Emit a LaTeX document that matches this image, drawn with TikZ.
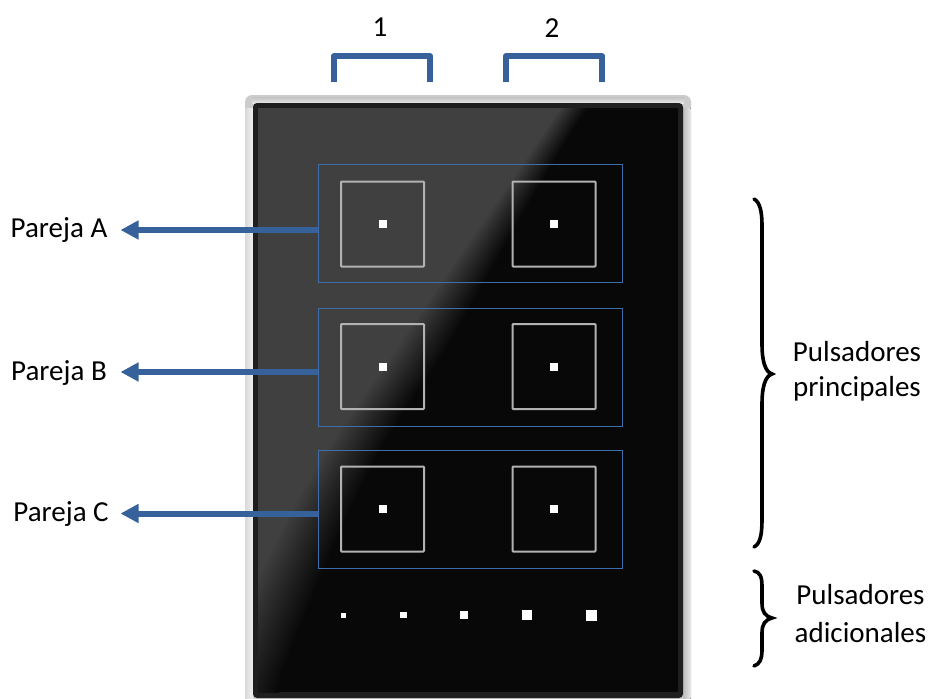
\documentclass[tikz,border=0pt]{standalone}
\usepackage{fontspec}
\setmainfont{Carlito}
\usetikzlibrary{arrows.meta}
\definecolor{blueline}{HTML}{36619A}
\definecolor{bluethin}{HTML}{3E6DAA}
\definecolor{glass}{HTML}{404040}
\definecolor{deep}{HTML}{080808}
\tikzset{
  lbl/.style={font=\fontsize{29}{35}\selectfont,text=black,inner sep=0pt,align=center},
  pairbox/.style={draw=bluethin,line width=1.2pt,minimum width=304pt,minimum height=118pt,inner sep=0pt},
  keybox/.style={draw=white!70!black,line width=2pt,minimum width=83pt,minimum height=85pt,inner sep=0pt,rounded corners=0.8pt},
  led/.style={fill=white,inner sep=0pt,minimum size=#1},
  conn/.style={draw=blueline,line width=6pt},
  colbr/.style={draw=blueline,line width=6pt,line join=round},
  pointer/.style={conn,-{Triangle[length=18pt,width=18pt]}},
  brace/.style={draw=black,line width=3.6pt,line cap=round,line join=miter}
}
\begin{document}
\begin{tikzpicture}[x=1pt,y=-1pt]
\useasboundingbox (0,0) rectangle (930,699);
\fill[white] (0,0) rectangle (930,699);
% bezel
\fill[rounded corners=7pt,fill=white!80!black] (245,95) rectangle (691,720);
\fill[left color=white!86!black,right color=white!94!black] (245.5,108) rectangle (253,720);
\fill[left color=white!74!black,right color=white!90!black] (683,108) rectangle (690.5,720);
\fill[top color=white!76!black,bottom color=white!90!black] (252,97) rectangle (684,103);
\fill[rounded corners=4pt,fill=black!88] (253,103) rectangle (683,698);
% glass with gloss
\begin{scope}
\clip (258,108) rectangle (678,692);
\fill[deep] (258,108) rectangle (678,692);
\foreach \i in {0,1,...,24}{
  \pgfmathsetmacro{\mixv}{100*\i/24}
  \pgfmathsetmacro{\offa}{14-1.17*\i}
  \pgfmathsetmacro{\offb}{30-2.17*\i}
  \pgfmathsetmacro{\offc}{34-2.83*\i}
  \fill[glass!\mixv!deep] (240,100) -- ({580+\offa},100)
     .. controls ({510+\offa},205) and ({450+\offb},300) .. ({400+\offb},377)
     .. controls ({340+\offb},455) and ({295+\offc},560) .. ({250+\offc},675)
     -- ({240+\offc},710) -- (240,710) -- cycle;
}
\end{scope}
% pair boxes
\node[pairbox] (pa) at (470.5,223.2) {};
\node[pairbox] (pb) at (470.5,367.3) {};
\node[pairbox] (pc) at (470.5,509.5) {};
% keys
\foreach \n/\y in {a/224,b/366.5,c/509}{
  \node[keybox] (k1\n) at (382.5,\y) {};
  \node[keybox] (k2\n) at (554,\y) {};
  \node[led=8pt] (l1\n) at (382.5,\y) {};
  \node[led=8pt] (l2\n) at (554,\y) {};
}
% additional LEDs
\node[led=5pt] (s1) at (343.3,615) {};
\node[led=6.5pt] (s2) at (403.3,615) {};
\node[led=8pt] (s3) at (464.3,615) {};
\node[led=9.5pt] (s4) at (527,615) {};
\node[led=11pt] (s5) at (591,615) {};
% labels
\node[lbl] (t1) at (380,27) {1};
\node[lbl] (t2) at (552,28) {2};
\node[lbl] (la) at (59,230) {Pareja A};
\node[lbl] (lb) at (59,373) {Pareja B};
\node[lbl] (lc) at (61,514) {Pareja C};
\node[lbl] (mainl) at (857,371) {Pulsadores\\principales};
\node[lbl] (addl) at (860.5,614) {Pulsadores\\[3pt]adicionales};
% connectors
\coordinate (ea) at (120.5,230);
\coordinate (eb) at (120.5,372);
\coordinate (ec) at (120.5,513.5);
\draw[pointer] (pa.west |- ea) -- (ea);
\draw[pointer] (pb.west |- eb) -- (eb);
\draw[pointer] (pc.west |- ec) -- (ec);
% column brackets
\coordinate (c1a) at (334,81.7); \coordinate (c1b) at (430,81.7);
\coordinate (c2a) at (506,81.7); \coordinate (c2b) at (602,81.7);
\draw[colbr] (c1a) -- (c1a |- 0,56) -- (c1b |- 0,56) -- (c1b);
\draw[colbr] (c2a) -- (c2a |- 0,56) -- (c2b |- 0,56) -- (c2b);
% braces
\draw[brace] (754,199) .. controls (760,202) and (762,212) .. (762,225)
  -- (762,345) .. controls (762,360) and (765,372) .. (772,374)
  .. controls (765,376) and (762,388) .. (762,403)
  -- (762,520) .. controls (762,535) and (760,544) .. (754,547);
\draw[brace] (754,571) .. controls (760,572) and (762,577) .. (762,586)
  -- (762,603) .. controls (762,612) and (765,616) .. (772,618)
  .. controls (765,620) and (762,624) .. (762,633)
  -- (762,650) .. controls (762,659) and (760,664) .. (754,666);
\end{tikzpicture}
\end{document}
